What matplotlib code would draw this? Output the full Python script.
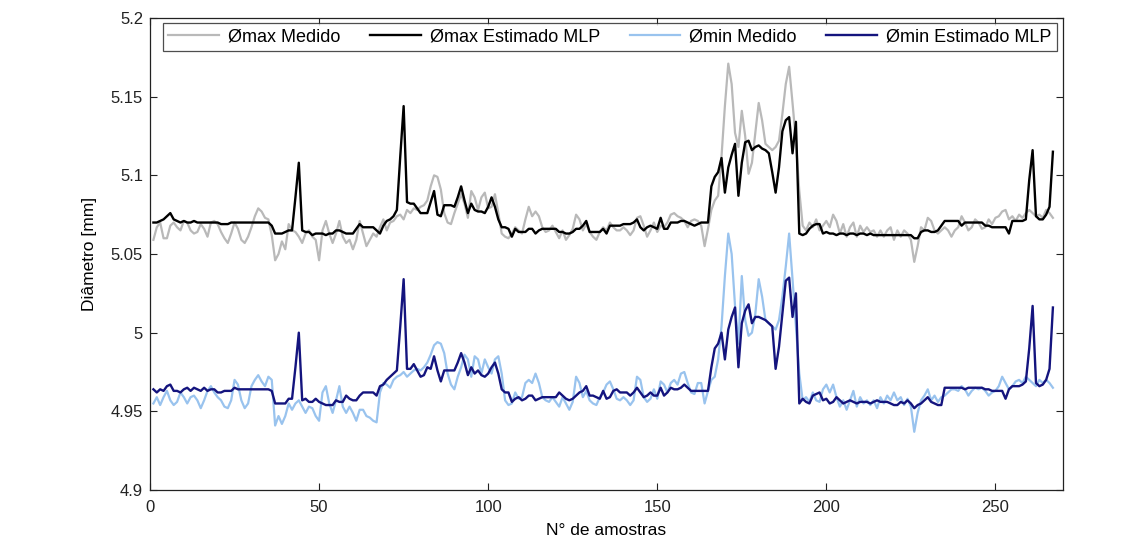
import numpy as np
import matplotlib

matplotlib.use("Agg")
import matplotlib.pyplot as plt

plt.rcParams["font.family"] = ["Liberation Sans Narrow", "Liberation Sans", "DejaVu Sans"]

# Diameter per sample (mm): measured vs. MLP estimate, for Ømax and Ømin
max_medido = [
    5.059, 5.067, 5.070, 5.060, 5.060, 5.068, 5.070, 5.067, 5.065, 5.071,
    5.070, 5.065, 5.063, 5.064, 5.069, 5.066, 5.061, 5.070, 5.071, 5.069,
    5.064, 5.060, 5.057, 5.063, 5.070, 5.066, 5.059, 5.057, 5.061, 5.067,
    5.074, 5.079, 5.077, 5.073, 5.072, 5.062, 5.046, 5.050, 5.058, 5.053,
    5.069, 5.065, 5.064, 5.061, 5.057, 5.063, 5.065, 5.061, 5.059, 5.046,
    5.065, 5.071, 5.063, 5.057, 5.063, 5.071, 5.061, 5.057, 5.059, 5.053,
    5.059, 5.071, 5.063, 5.055, 5.059, 5.063, 5.061, 5.067, 5.072, 5.065,
    5.070, 5.071, 5.074, 5.075, 5.072, 5.078, 5.076, 5.079, 5.078, 5.080,
    5.081, 5.084, 5.093, 5.100, 5.099, 5.091, 5.076, 5.070, 5.069, 5.076,
    5.082, 5.088, 5.082, 5.073, 5.090, 5.086, 5.078, 5.086, 5.089, 5.079,
    5.080, 5.088, 5.076, 5.063, 5.061, 5.060, 5.063, 5.067, 5.065, 5.063,
    5.072, 5.080, 5.074, 5.077, 5.074, 5.067, 5.064, 5.065, 5.068, 5.064,
    5.060, 5.065, 5.059, 5.062, 5.066, 5.075, 5.072, 5.065, 5.069, 5.064,
    5.061, 5.059, 5.064, 5.067, 5.065, 5.070, 5.067, 5.065, 5.065, 5.067,
    5.065, 5.062, 5.065, 5.073, 5.074, 5.068, 5.061, 5.065, 5.070, 5.064,
    5.068, 5.067, 5.070, 5.075, 5.076, 5.074, 5.073, 5.071, 5.067, 5.071,
    5.072, 5.071, 5.068, 5.055, 5.066, 5.078, 5.084, 5.087, 5.112, 5.144,
    5.171, 5.158, 5.127, 5.118, 5.141, 5.125, 5.101, 5.108, 5.127, 5.146,
    5.135, 5.120, 5.118, 5.116, 5.118, 5.122, 5.139, 5.158, 5.169, 5.146,
    5.122, 5.090, 5.068, 5.065, 5.070, 5.067, 5.072, 5.065, 5.068, 5.071,
    5.067, 5.075, 5.071, 5.063, 5.069, 5.061, 5.067, 5.070, 5.061, 5.068,
    5.064, 5.067, 5.064, 5.065, 5.061, 5.065, 5.061, 5.065, 5.067, 5.059,
    5.065, 5.061, 5.065, 5.063, 5.059, 5.045, 5.055, 5.067, 5.065, 5.073,
    5.071, 5.065, 5.063, 5.065, 5.067, 5.065, 5.061, 5.065, 5.067, 5.074,
    5.070, 5.065, 5.067, 5.072, 5.070, 5.066, 5.067, 5.072, 5.069, 5.073,
    5.074, 5.077, 5.078, 5.072, 5.074, 5.071, 5.075, 5.073, 5.076, 5.078,
    5.076, 5.074, 5.075, 5.073, 5.078, 5.076, 5.073,
]

max_mlp = [
    5.070, 5.070, 5.071, 5.072, 5.074, 5.076, 5.072, 5.071, 5.070, 5.071,
    5.070, 5.070, 5.071, 5.070, 5.070, 5.070, 5.070, 5.070, 5.070, 5.070,
    5.069, 5.069, 5.069, 5.070, 5.070, 5.070, 5.070, 5.070, 5.070, 5.070,
    5.070, 5.070, 5.070, 5.070, 5.070, 5.068, 5.063, 5.063, 5.063, 5.064,
    5.065, 5.065, 5.086, 5.108, 5.065, 5.064, 5.064, 5.062, 5.063, 5.063,
    5.063, 5.062, 5.063, 5.063, 5.065, 5.065, 5.064, 5.063, 5.063, 5.063,
    5.066, 5.069, 5.067, 5.067, 5.067, 5.067, 5.065, 5.063, 5.068, 5.071,
    5.072, 5.074, 5.078, 5.112, 5.144, 5.083, 5.082, 5.082, 5.079, 5.076,
    5.076, 5.076, 5.083, 5.090, 5.075, 5.074, 5.081, 5.081, 5.081, 5.080,
    5.086, 5.093, 5.084, 5.076, 5.082, 5.078, 5.077, 5.077, 5.076, 5.080,
    5.086, 5.080, 5.072, 5.067, 5.067, 5.066, 5.061, 5.066, 5.064, 5.064,
    5.064, 5.066, 5.066, 5.063, 5.065, 5.066, 5.066, 5.066, 5.066, 5.066,
    5.064, 5.064, 5.063, 5.063, 5.064, 5.066, 5.066, 5.068, 5.071, 5.064,
    5.064, 5.064, 5.064, 5.066, 5.063, 5.068, 5.068, 5.068, 5.068, 5.069,
    5.069, 5.069, 5.070, 5.072, 5.067, 5.065, 5.067, 5.068, 5.067, 5.066,
    5.073, 5.066, 5.066, 5.070, 5.070, 5.070, 5.071, 5.071, 5.070, 5.069,
    5.068, 5.069, 5.070, 5.070, 5.070, 5.093, 5.099, 5.102, 5.111, 5.089,
    5.105, 5.113, 5.120, 5.087, 5.108, 5.121, 5.122, 5.116, 5.118, 5.119,
    5.117, 5.116, 5.114, 5.102, 5.089, 5.105, 5.128, 5.135, 5.137, 5.114,
    5.134, 5.063, 5.062, 5.063, 5.066, 5.068, 5.069, 5.069, 5.063, 5.064,
    5.063, 5.063, 5.062, 5.063, 5.063, 5.062, 5.063, 5.063, 5.062, 5.063,
    5.063, 5.062, 5.063, 5.062, 5.062, 5.062, 5.062, 5.062, 5.062, 5.062,
    5.062, 5.062, 5.062, 5.062, 5.062, 5.060, 5.060, 5.064, 5.065, 5.065,
    5.064, 5.064, 5.065, 5.068, 5.071, 5.071, 5.071, 5.071, 5.071, 5.068,
    5.070, 5.070, 5.070, 5.070, 5.070, 5.070, 5.068, 5.068, 5.067, 5.067,
    5.067, 5.067, 5.067, 5.063, 5.071, 5.071, 5.071, 5.071, 5.072, 5.097,
    5.116, 5.074, 5.072, 5.072, 5.075, 5.080, 5.115,
]

min_medido = [
    4.955, 4.959, 4.954, 4.959, 4.963, 4.957, 4.954, 4.956, 4.962, 4.959,
    4.955, 4.959, 4.960, 4.957, 4.952, 4.957, 4.963, 4.966, 4.962, 4.959,
    4.957, 4.953, 4.952, 4.957, 4.970, 4.967, 4.957, 4.952, 4.955, 4.966,
    4.970, 4.973, 4.969, 4.966, 4.972, 4.970, 4.941, 4.947, 4.942, 4.947,
    4.955, 4.951, 4.955, 4.957, 4.953, 4.949, 4.953, 4.952, 4.947, 4.944,
    4.962, 4.966, 4.955, 4.949, 4.957, 4.966, 4.953, 4.949, 4.953, 4.949,
    4.944, 4.951, 4.951, 4.947, 4.946, 4.944, 4.943, 4.962, 4.968, 4.967,
    4.965, 4.970, 4.972, 4.973, 4.975, 4.972, 4.974, 4.976, 4.977, 4.976,
    4.978, 4.981, 4.986, 4.992, 4.994, 4.993, 4.987, 4.974, 4.967, 4.964,
    4.972, 4.978, 4.986, 4.983, 4.972, 4.985, 4.983, 4.974, 4.983, 4.978,
    4.974, 4.983, 4.985, 4.974, 4.957, 4.954, 4.955, 4.962, 4.958, 4.959,
    4.968, 4.970, 4.968, 4.974, 4.968, 4.959, 4.957, 4.956, 4.959, 4.956,
    4.953, 4.959, 4.955, 4.951, 4.956, 4.972, 4.968, 4.959, 4.963, 4.957,
    4.955, 4.954, 4.959, 4.962, 4.967, 4.969, 4.964, 4.958, 4.957, 4.959,
    4.957, 4.954, 4.957, 4.972, 4.970, 4.959, 4.956, 4.958, 4.964, 4.958,
    4.969, 4.967, 4.962, 4.968, 4.970, 4.967, 4.974, 4.975, 4.968, 4.962,
    4.961, 4.968, 4.968, 4.955, 4.963, 4.970, 4.972, 4.983, 5.004, 5.036,
    5.063, 5.050, 5.017, 4.993, 5.036, 5.008, 4.998, 5.000, 5.012, 5.034,
    5.023, 5.008, 5.006, 5.004, 5.002, 5.008, 5.023, 5.042, 5.063, 5.034,
    5.004, 4.974, 4.957, 4.959, 4.956, 4.962, 4.957, 4.956, 4.964, 4.967,
    4.962, 4.967, 4.959, 4.953, 4.957, 4.951, 4.957, 4.963, 4.953, 4.959,
    4.955, 4.957, 4.954, 4.957, 4.952, 4.959, 4.955, 4.960, 4.957, 4.962,
    4.957, 4.959, 4.954, 4.958, 4.953, 4.937, 4.949, 4.957, 4.960, 4.964,
    4.957, 4.960, 4.956, 4.959, 4.960, 4.962, 4.964, 4.964, 4.963, 4.966,
    4.964, 4.960, 4.963, 4.965, 4.964, 4.965, 4.963, 4.960, 4.962, 4.963,
    4.966, 4.972, 4.968, 4.964, 4.966, 4.969, 4.970, 4.968, 4.972, 4.970,
    4.968, 4.966, 4.970, 4.968, 4.970, 4.968, 4.965,
]

min_mlp = [
    4.964, 4.962, 4.964, 4.963, 4.966, 4.967, 4.963, 4.963, 4.962, 4.964,
    4.965, 4.963, 4.965, 4.964, 4.963, 4.965, 4.963, 4.964, 4.964, 4.962,
    4.962, 4.963, 4.963, 4.963, 4.965, 4.964, 4.964, 4.964, 4.964, 4.964,
    4.964, 4.964, 4.964, 4.964, 4.964, 4.963, 4.955, 4.955, 4.955, 4.955,
    4.958, 4.958, 4.978, 5.000, 4.957, 4.958, 4.956, 4.956, 4.958, 4.956,
    4.955, 4.954, 4.954, 4.954, 4.957, 4.956, 4.956, 4.960, 4.958, 4.957,
    4.957, 4.960, 4.962, 4.962, 4.962, 4.962, 4.960, 4.966, 4.967, 4.970,
    4.972, 4.974, 4.976, 5.004, 5.034, 4.977, 4.977, 4.980, 4.976, 4.972,
    4.973, 4.978, 4.977, 4.985, 4.976, 4.969, 4.976, 4.976, 4.976, 4.976,
    4.981, 4.987, 4.981, 4.973, 4.978, 4.974, 4.976, 4.973, 4.972, 4.974,
    4.978, 4.981, 4.974, 4.964, 4.962, 4.962, 4.956, 4.958, 4.959, 4.957,
    4.958, 4.960, 4.960, 4.957, 4.958, 4.959, 4.959, 4.959, 4.959, 4.959,
    4.962, 4.960, 4.958, 4.957, 4.958, 4.960, 4.962, 4.963, 4.966, 4.960,
    4.960, 4.959, 4.958, 4.963, 4.958, 4.959, 4.963, 4.964, 4.962, 4.962,
    4.962, 4.960, 4.962, 4.965, 4.962, 4.959, 4.960, 4.962, 4.960, 4.960,
    4.965, 4.960, 4.962, 4.965, 4.964, 4.964, 4.965, 4.967, 4.965, 4.963,
    4.963, 4.963, 4.963, 4.963, 4.963, 4.978, 4.990, 4.993, 5.000, 4.983,
    5.002, 5.010, 5.016, 4.978, 5.006, 5.014, 5.018, 5.006, 5.010, 5.010,
    5.009, 5.008, 5.006, 5.004, 4.977, 4.991, 5.012, 5.033, 5.035, 5.010,
    5.025, 4.955, 4.958, 4.956, 4.955, 4.960, 4.961, 4.962, 4.957, 4.958,
    4.955, 4.956, 4.959, 4.957, 4.955, 4.956, 4.957, 4.956, 4.955, 4.956,
    4.956, 4.956, 4.955, 4.956, 4.957, 4.956, 4.956, 4.956, 4.955, 4.954,
    4.954, 4.956, 4.955, 4.957, 4.955, 4.952, 4.954, 4.955, 4.957, 4.959,
    4.956, 4.955, 4.954, 4.954, 4.965, 4.965, 4.965, 4.965, 4.965, 4.965,
    4.964, 4.965, 4.965, 4.965, 4.965, 4.965, 4.964, 4.964, 4.963, 4.963,
    4.963, 4.963, 4.958, 4.964, 4.966, 4.966, 4.966, 4.967, 4.969, 4.990,
    5.017, 4.968, 4.966, 4.967, 4.970, 4.977, 5.016,
]

series = [
    ("Ømax Medido", max_medido, "#b9b9b9", 1.6),
    ("Ømax Estimado MLP", max_mlp, "#000000", 1.7),
    ("Ømin Medido", min_medido, "#99c3ee", 1.6),
    ("Ømin Estimado MLP", min_mlp, "#14147e", 1.7),
]

fig = plt.figure(figsize=(11.4, 5.45), dpi=100)
ax = fig.add_axes([0.1316, 0.1009, 0.8009, 0.8661])

for label, values, color, lw in series:
    x = np.arange(1, len(values) + 1)
    ax.plot(x, values, color=color, linewidth=lw, label=label)

ax.set_xlim(0, 270)
ax.set_ylim(4.9, 5.2)
ax.set_xticks([0, 50, 100, 150, 200, 250])
yticks = [4.9, 4.95, 5.0, 5.05, 5.1, 5.15, 5.2]
ax.set_yticks(yticks)
ax.set_yticklabels(["4.9", "4.95", "5", "5.05", "5.1", "5.15", "5.2"])
ax.tick_params(direction="in", top=True, right=True, length=5, width=0.8,
               labelsize=12, colors="#222222")
ax.tick_params(axis="x", pad=7)
ax.tick_params(axis="y", pad=5)
for sp in ax.spines.values():
    sp.set_linewidth(0.9)
    sp.set_color("#222222")

ax.set_xlabel("N° de amostras", fontsize=12.5, labelpad=6)
ax.set_ylabel("Diâmetro [mm]", fontsize=12.5, labelpad=10)

leg = ax.legend(loc="upper left", bbox_to_anchor=(0.0142, 0.989, 0.979, 0.0),
                mode="expand", ncol=4, fontsize=13, frameon=True,
                fancybox=False, handlelength=2.8, handletextpad=0.5,
                borderpad=0.3, borderaxespad=0.0)
leg.get_frame().set_edgecolor("#222222")
leg.get_frame().set_linewidth(0.9)

fig.savefig("out.png", dpi=100)
